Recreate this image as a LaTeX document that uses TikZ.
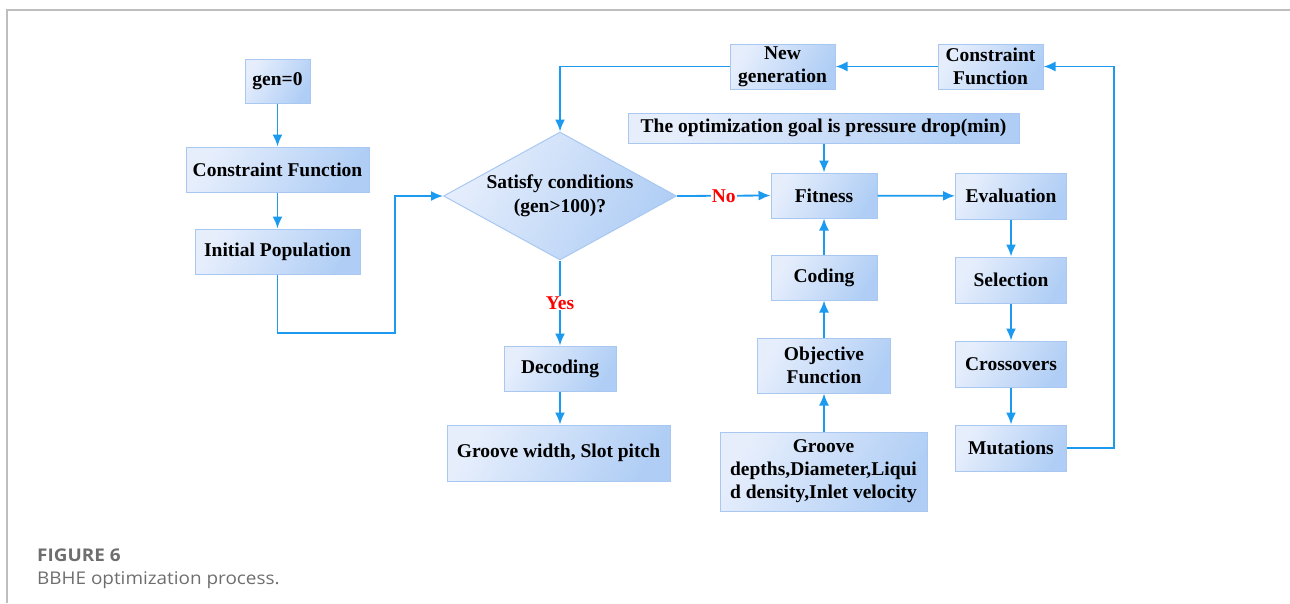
\documentclass[tikz,border=0pt]{standalone}
\usepackage{fontspec}
\setmainfont{Liberation Serif}
\newfontfamily\capfont[FakeStretch=1.08]{Open Sans}
\usetikzlibrary{arrows.meta,shapes.geometric}
\definecolor{lineblue}{RGB}{28,154,240}
\definecolor{boxedge}{RGB}{168,200,242}
\definecolor{boxlight}{RGB}{230,238,252}
\definecolor{boxdark}{RGB}{176,206,245}
\definecolor{framegray}{RGB}{190,190,190}
\definecolor{capgray}{RGB}{110,110,110}
\tikzset{
  box/.style={draw=boxedge, line width=1pt, top color=boxlight, bottom color=boxdark, shading angle=60,
    inner sep=2pt, align=center, font=\fontsize{19.5}{23}\selectfont\bfseries, text=black},
  conn/.style={draw=lineblue, line width=1.8pt, -{Latex[length=12pt,width=10pt]}},
  yn/.style={fill=white, inner sep=1pt, text=red, font=\fontsize{19.5}{22}\selectfont\bfseries}
}
\begin{document}
\begin{tikzpicture}[x=1pt,y=-1pt]
\useasboundingbox (0,0) rectangle (1290,603);
\draw[framegray, line width=1.3pt] (7,603) -- (7,10) -- (1290,10);

\node[box, minimum width=65pt, minimum height=44pt] (g0) at (277.5,81) {gen=0};
\node[box, minimum width=183pt, minimum height=45pt] (cf1) at (277.5,169.5) {Constraint Function};
\node[box, minimum width=165pt, minimum height=45pt] (ip) at (277.5,251.5) {Initial Population};

\node[diamond, draw=boxedge, line width=1pt, top color=boxlight, bottom color=boxdark, shading angle=60,
  minimum width=233pt, minimum height=128pt, inner sep=0pt,
  label={[align=center, font=\fontsize{19.5}{24}\selectfont\bfseries]center:Satisfy conditions\\(gen>100)?}] (d) at (560,196) {};

\node[box, minimum width=105pt, minimum height=45pt] (ng) at (782.5,66.5) {New\\generation};
\node[box, minimum width=105pt, minimum height=45pt] (cf2) at (990.5,66.5) {Constraint\\Function};
\node[box, minimum width=391pt, minimum height=30pt] (goal) at (823.5,128) {The optimization goal is pressure drop(min)};
\node[box, minimum width=106pt, minimum height=45pt] (fit) at (824,195.5) {Fitness};
\node[box, minimum width=106pt, minimum height=45pt] (cod) at (824,277.5) {Coding};
\node[box, minimum width=133pt, minimum height=55pt] (obj) at (824,365.5) {Objective\\Function};
\node[box, minimum width=207pt, minimum height=79pt] (grv) at (823.5,471.5) {Groove\\depths,Diameter,Liqui\\d density,Inlet velocity};

\node[box, minimum width=111pt, minimum height=46pt] (eva) at (1011,196) {Evaluation};
\node[box, minimum width=111pt, minimum height=46pt] (sel) at (1011,280) {Selection};
\node[box, minimum width=111pt, minimum height=46pt] (cro) at (1011,364) {Crossovers};
\node[box, minimum width=111pt, minimum height=46pt] (mut) at (1011,448) {Mutations};

\node[box, minimum width=112pt, minimum height=45pt] (dec) at (560,368.5) {Decoding};
\node[box, minimum width=223pt, minimum height=56pt] (gw) at (558.5,453) {Groove width, Slot pitch};

\coordinate (l1) at (277.5,333);
\coordinate (l2) at (395,333);
\coordinate (l3) at (395,196);
\coordinate (t1) at (560,66.5);
\coordinate (r1) at (1114,448);
\coordinate (r2) at (1114,66.5);

\draw[conn] (g0) -- (cf1);
\draw[conn] (cf1) -- (ip);
\draw[conn] (ip.south) -- (l1) -- (l2) -- (l3) -- (d.west);
\draw[conn] (ng.west) -- (t1) -- (d.north);
\draw[conn] (d.east) -- node[yn] {No} (fit.west);
\draw[conn] (d.south) -- node[yn, pos=0.5] {Yes} (d.south |- dec.north);
\draw[conn] (dec) -- (dec |- gw.north);
\draw[conn] (goal.south -| fit) -- (fit);
\draw[conn] (cod) -- (fit);
\draw[conn] (obj) -- (cod);
\draw[conn] (grv.north -| obj) -- (obj);
\draw[conn] (fit) -- (eva);
\draw[conn] (eva) -- (sel);
\draw[conn] (sel) -- (cro);
\draw[conn] (cro) -- (mut);
\draw[conn] (mut.east) -- (r1) -- (r2) -- (cf2.east);
\draw[conn] (cf2) -- (ng);

\node[anchor=base west, inner sep=0pt, text=capgray, font=\capfont\fontsize{17.5}{20}\selectfont\bfseries] (cap1) at (37,561) {FIGURE 6};
\node[anchor=base west, inner sep=0pt, text=capgray, font=\capfont\fontsize{17.5}{20}\selectfont] (cap2) at (37,584) {BBHE optimization process.};
\end{tikzpicture}
\end{document}
